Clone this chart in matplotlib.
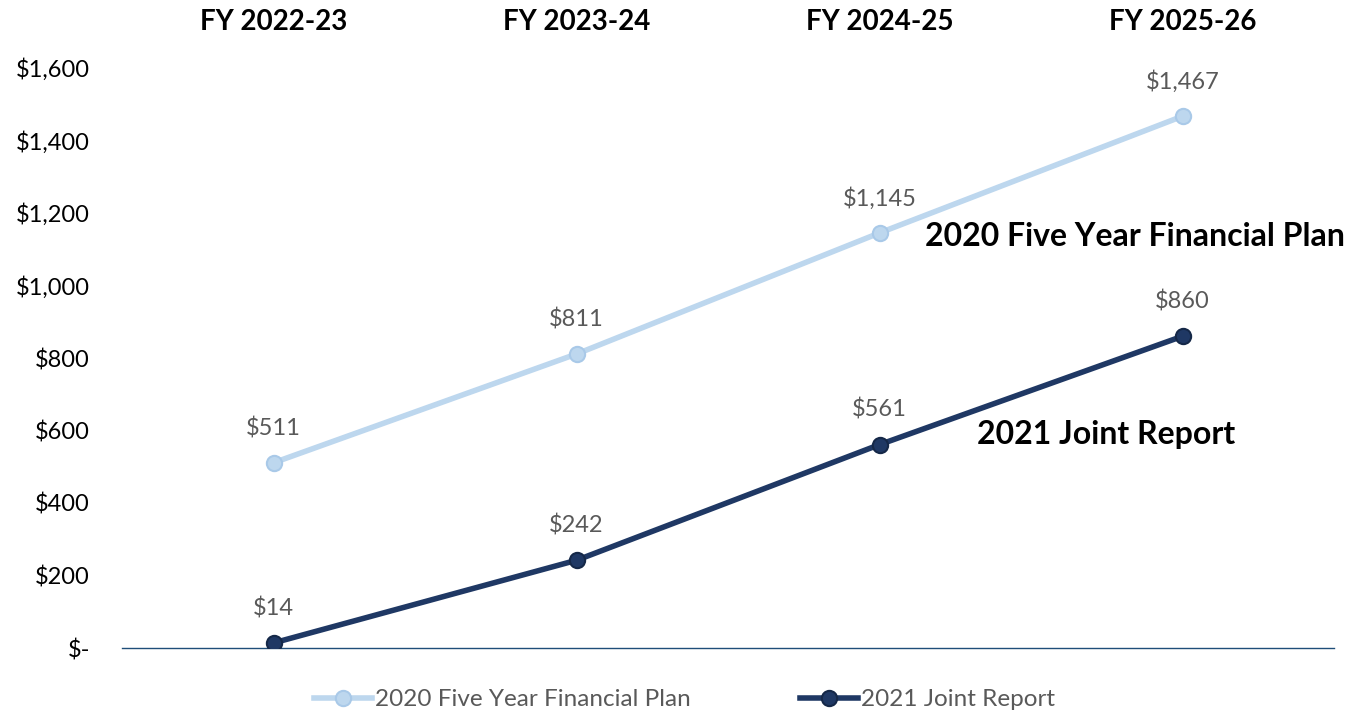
import matplotlib
matplotlib.use("Agg")
import matplotlib.pyplot as plt
from matplotlib.ticker import FuncFormatter

plt.rcParams['font.family'] = ['Lato', 'DejaVu Sans']

categories = ["FY 2022-23", "FY 2023-24", "FY 2024-25", "FY 2025-26"]
plan_2020 = [511, 811, 1145, 1467]
joint_2021 = [14, 242, 561, 860]
series_names = ["2020 Five Year Financial Plan", "2021 Joint Report"]
yticks = [0, 200, 400, 600, 800, 1000, 1200, 1400, 1600]

light = "#BDD7EE"
dark = "#1F3864"
label_gray = "#595959"

fig = plt.figure(figsize=(13.5, 7.11), dpi=100)
ax = fig.add_axes([122/1350, 1-648/711, (1334-122)/1350, (648-68)/711])

x = list(range(len(categories)))
ax.plot(x, plan_2020, color=light, lw=4, marker='o', ms=11,
        mfc=light, mec="#A9C9E8", mew=1.5, label=series_names[0], zorder=3)
ax.plot(x, joint_2021, color=dark, lw=4, marker='o', ms=11,
        mfc=dark, mec="#152848", mew=1.5, label=series_names[1], zorder=3)

for xi, v in zip(x, plan_2020):
    ax.annotate(f"${v:,}", (xi, v), xytext=(0, 25), textcoords='offset points',
                ha='center', va='center', fontsize=17, color=label_gray)
for xi, v in zip(x, joint_2021):
    ax.annotate(f"${v:,}", (xi, v), xytext=(0, 25), textcoords='offset points',
                ha='center', va='center', fontsize=17, color=label_gray)

ax.set_xlim(-0.5, 3.5)
ax.set_ylim(0, 1600)
ax.set_yticks(yticks)
ax.yaxis.set_major_formatter(FuncFormatter(lambda v, p: "$-" if v == 0 else f"${v:,.0f}"))
ax.tick_params(axis='y', length=0, labelsize=17, pad=23, labelcolor='black')
ax.xaxis.tick_top()
ax.set_xticks(x)
ax.set_xticklabels(categories, fontsize=20, fontweight='bold')
ax.tick_params(axis='x', length=0, pad=24)
for s in ['top', 'right', 'left']:
    ax.spines[s].set_visible(False)
ax.spines['bottom'].set_color('#1F4E79')
ax.spines['bottom'].set_linewidth(1)
ax.spines['bottom'].set_zorder(1)

ax.text(3.536, 1134, series_names[0], ha='right', va='center', fontsize=23,
        fontweight='bold', color='black')
ax.text(3.173, 588, series_names[1], ha='right', va='center', fontsize=23,
        fontweight='bold', color='black')

leg = fig.legend(loc='lower center', bbox_to_anchor=(0.507, -0.03), ncol=2,
                 frameon=False, fontsize=17.5, handlelength=2.4, handletextpad=0.1,
                 columnspacing=4.5)
for t in leg.get_texts():
    t.set_color(label_gray)

fig.savefig("out.png", dpi=100)
